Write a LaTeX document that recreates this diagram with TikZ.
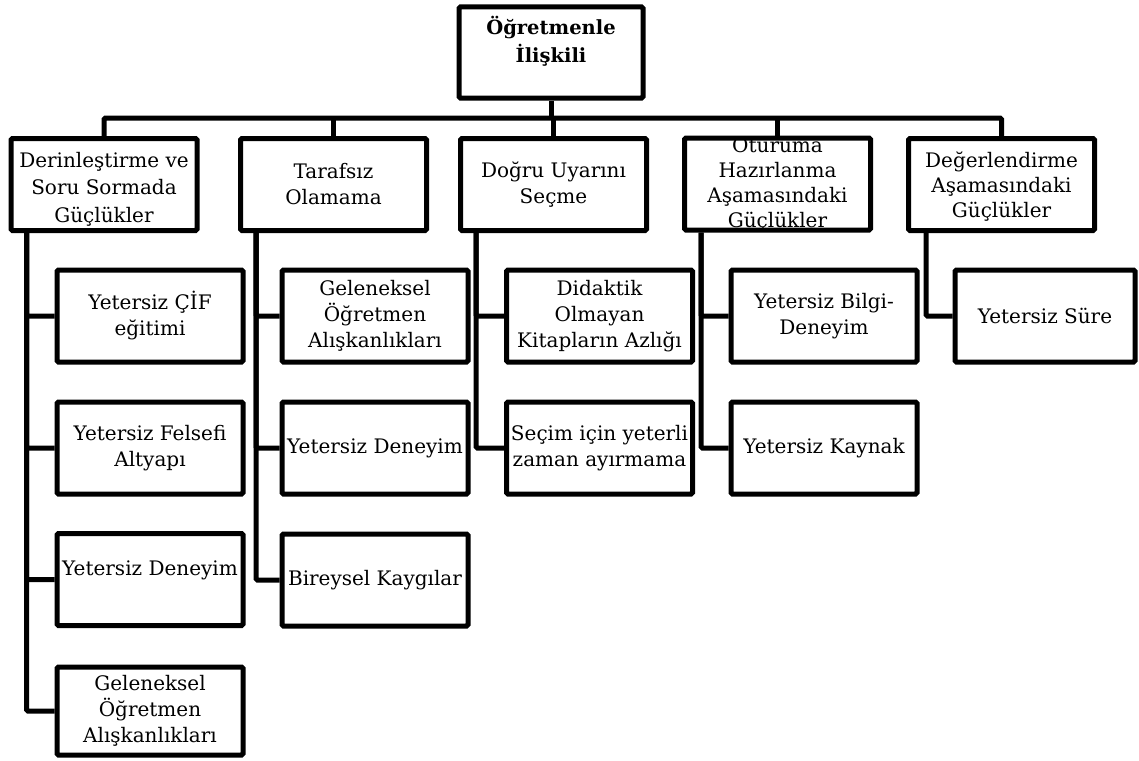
\documentclass[tikz,border=0pt]{standalone}
\usepackage{fontspec}
\setmainfont{DejaVu Serif}
\begin{document}
\begin{tikzpicture}[x=1pt,y=-1pt,
  box/.style={draw, line width=5pt, rounded corners=1.5pt, minimum width=186pt,
    minimum height=92pt, inner sep=0pt, align=center,
    font=\fontsize{20}{26}\selectfont},
  conn/.style={line width=5pt, rounded corners=1.5pt},
]
\useasboundingbox (0,0) rectangle (1139,760);
% root
\node[box, font=\fontsize{19.5}{28}\selectfont\bfseries, minimum width=184pt, minimum height=91pt,
  text height=45pt, text depth=24pt] (top) at (551,52.5) {Öğretmenle\\İlişkili};
% level 1
\node[box, font=\fontsize{20}{27.5}\selectfont, text height=80pt, text depth=5pt] (p1) at (104,184.5) {Derinleştirme ve\\Soru Sormada\\Güçlükler};
\node[box] (p2) at (333.5,184.5) {Tarafsız\\Olamama};
\node[box] (p3) at (553.5,184.5) {Doğru Uyarını\\Seçme};
\node[box, font=\fontsize{20}{25}\selectfont, text height=88pt, text depth=2pt] (p4) at (777.5,184) {Oturuma\\Hazırlanma\\Aşamasındaki\\Güçlükler};
\node[box, font=\fontsize{20}{25}\selectfont, text height=70pt, text depth=5pt] (p5) at (1001.5,184.5) {Değerlendirme\\Aşamasındaki\\Güçlükler};
% column 1
\node[box] (c11) at (150,316) {Yetersiz ÇİF\\eğitimi};
\node[box] (c12) at (150,448) {Yetersiz Felsefi\\Altyapı};
\node[box, text height=5pt, text depth=14pt] (c13) at (150,579.5) {Yetersiz Deneyim};
\node[box, minimum height=88pt] (c14) at (150,711) {Geleneksel\\Öğretmen\\Alışkanlıkları};
% column 2
\node[box] (c21) at (375,316) {Geleneksel\\Öğretmen\\Alışkanlıkları};
\node[box] (c22) at (375,448) {Yetersiz Deneyim};
\node[box] (c23) at (375,580) {Bireysel Kaygılar};
% column 3
\node[box] (c31) at (599.5,316) {Didaktik\\Olmayan\\Kitapların Azlığı};
\node[box] (c32) at (599.5,448) {Seçim için yeterli\\zaman ayırmama};
% column 4
\node[box] (c41) at (824,316) {Yetersiz Bilgi-\\Deneyim};
\node[box] (c42) at (824,448) {Yetersiz Kaynak};
% column 5
\node[box, minimum width=180pt] (c51) at (1045,316) {Yetersiz Süre};
% top connectors
\coordinate (bar) at (551,118);
\draw[conn] (top.south) -- (top.south |- bar);
\draw[conn] (p1.north) |- (bar) -| (p5.north);
\draw[conn] (p2.north) -- (p2.north |- bar);
\draw[conn] (p3.north) -- (p3.north |- bar);
\draw[conn] (p4.north) -- (p4.north |- bar);
% column connectors
\draw[conn] (p1.south west) ++(18,0) |- (c14.west);
\draw[conn] (p1.south west) ++(18,0) |- (c13.west);
\draw[conn] (p1.south west) ++(18,0) |- (c12.west);
\draw[conn] (p1.south west) ++(18,0) |- (c11.west);
\draw[conn] (p2.south west) ++(18,0) |- (c23.west);
\draw[conn] (p2.south west) ++(18,0) |- (c22.west);
\draw[conn] (p2.south west) ++(18,0) |- (c21.west);
\draw[conn] (p3.south west) ++(18,0) |- (c32.west);
\draw[conn] (p3.south west) ++(18,0) |- (c31.west);
\draw[conn] (p4.south west) ++(19,0) |- (c42.west);
\draw[conn] (p4.south west) ++(19,0) |- (c41.west);
\draw[conn] (p5.south west) ++(20,0) |- (c51.west);
\end{tikzpicture}
\end{document}
